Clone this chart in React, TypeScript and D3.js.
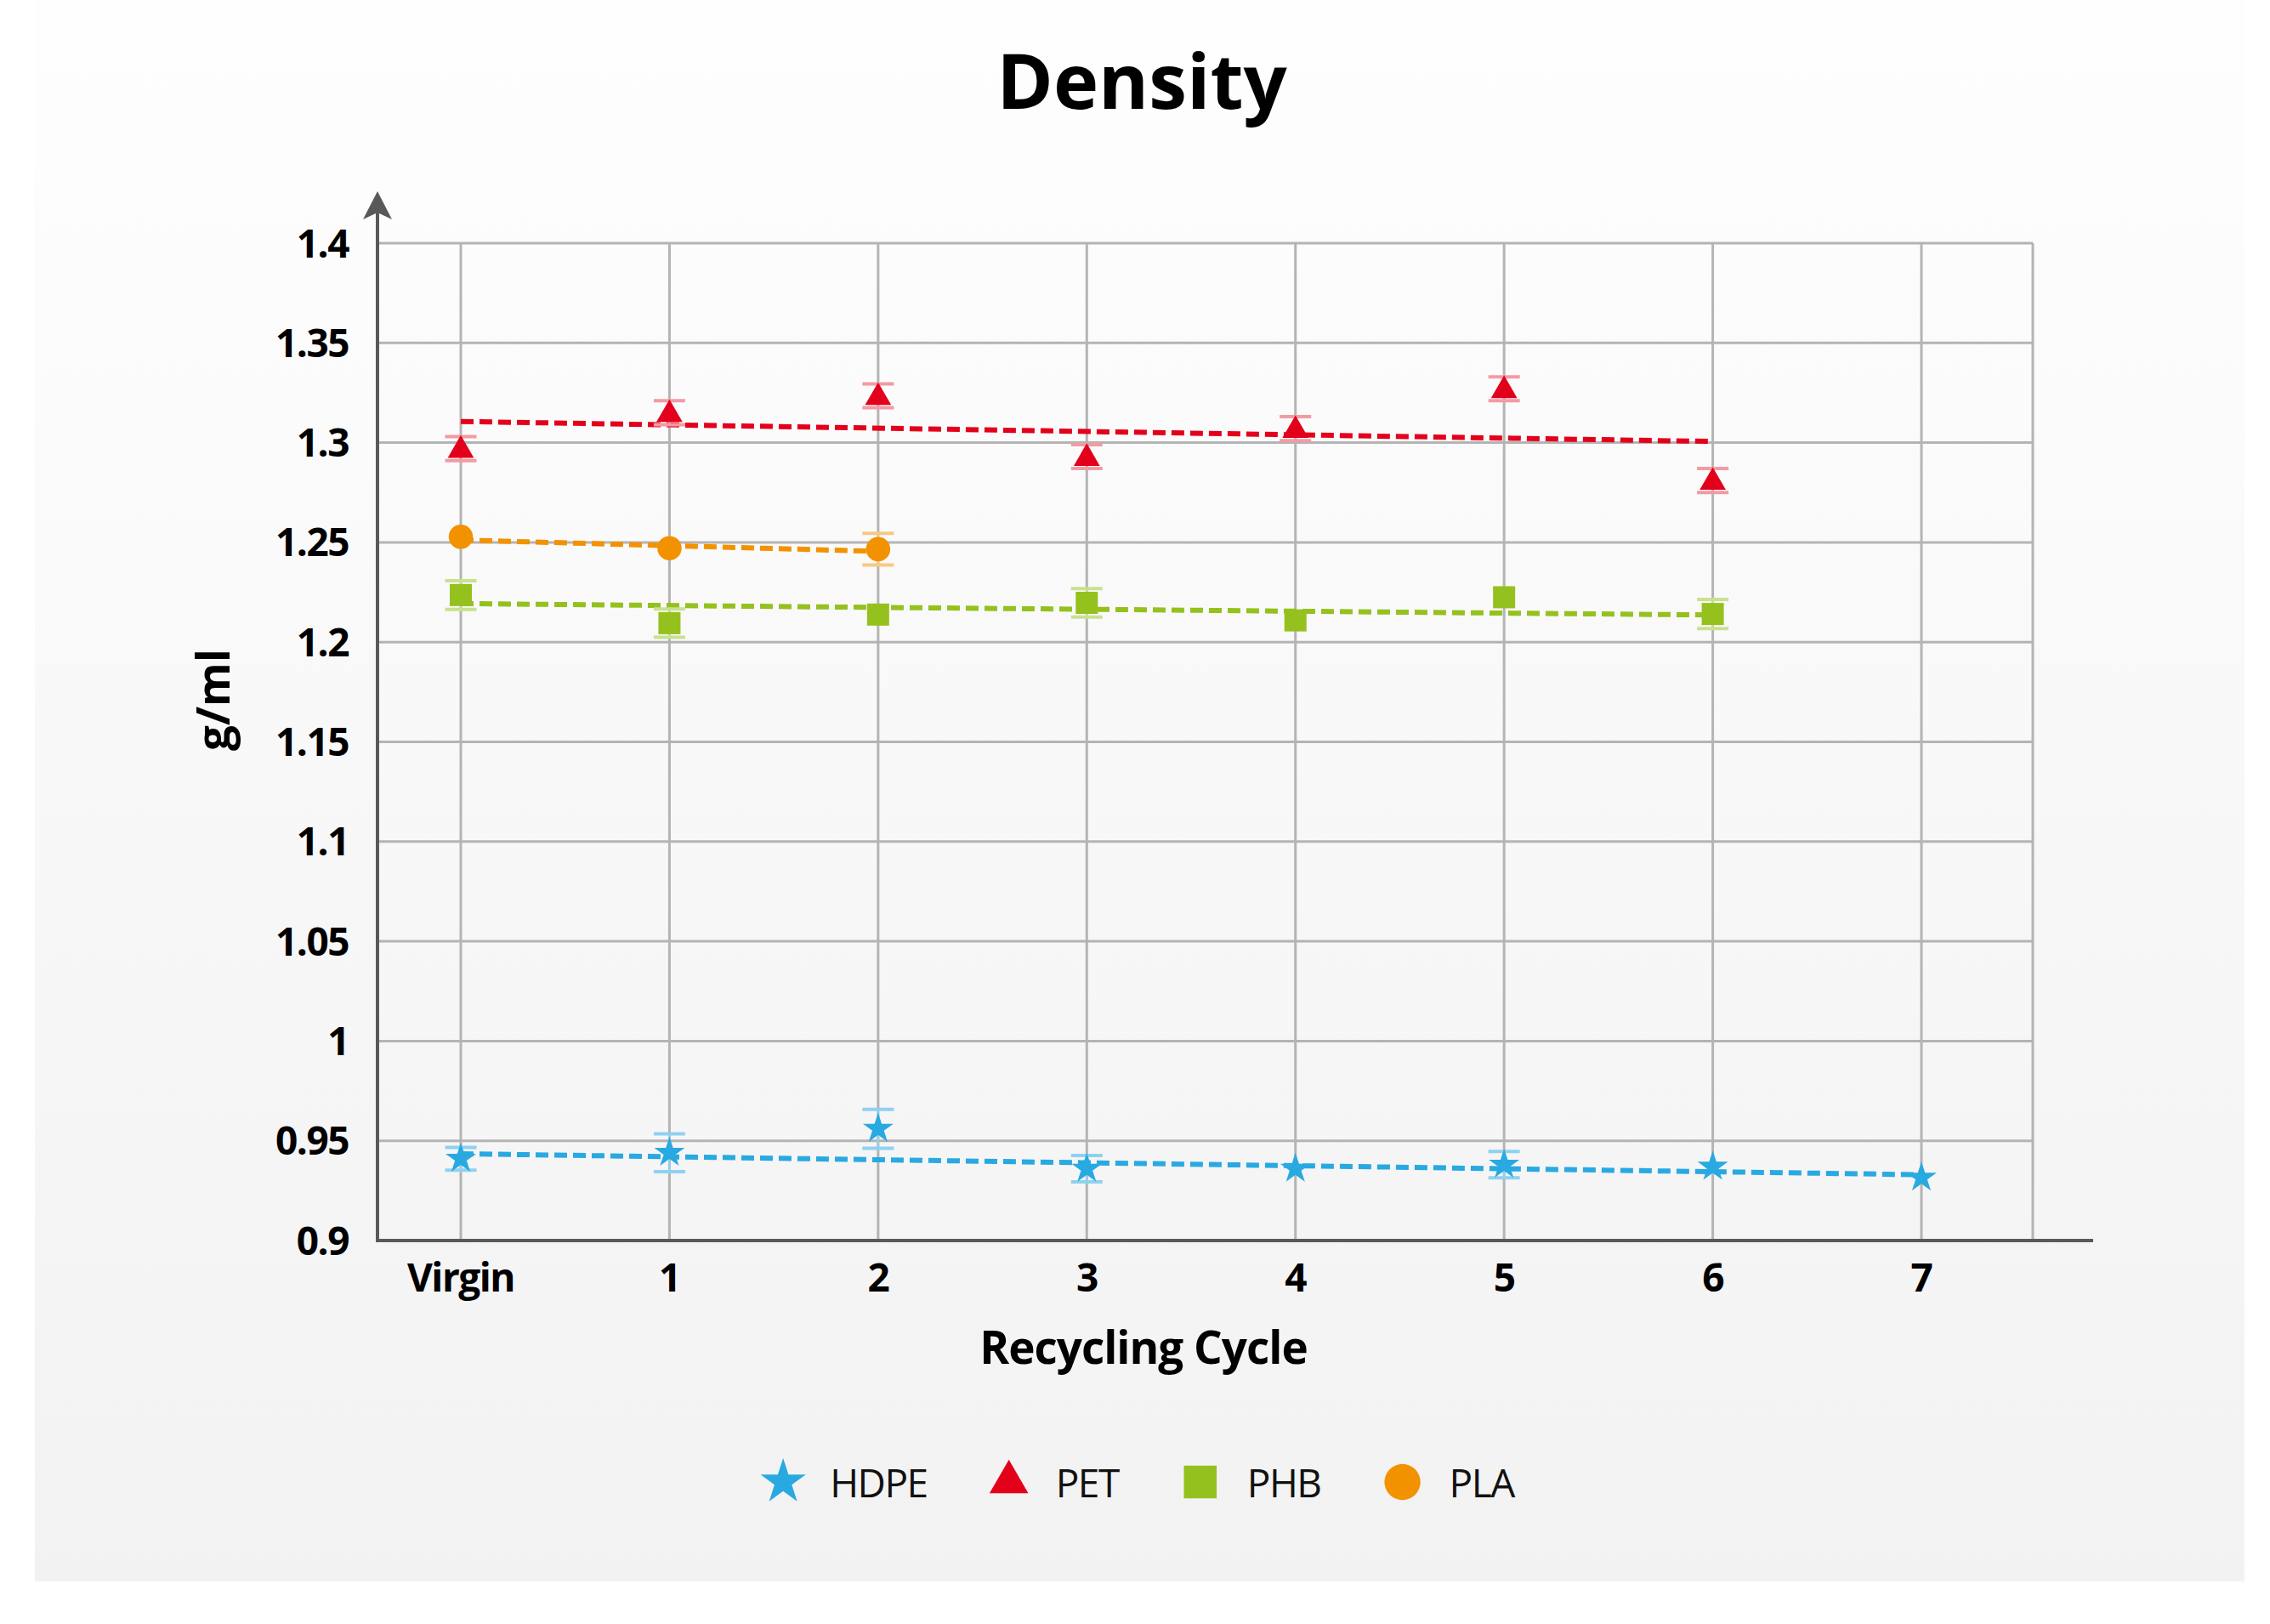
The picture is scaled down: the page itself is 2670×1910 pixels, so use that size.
import React, { useEffect, useRef } from 'react';
import * as d3 from 'd3';

const categories = ['Virgin', '1', '2', '3', '4', '5', '6', '7'];
const yTicks = [0.9, 0.95, 1, 1.05, 1.1, 1.15, 1.2, 1.25, 1.3, 1.35, 1.4];

const hdpeValues = [0.941, 0.944, 0.956, 0.936, 0.936, 0.938, 0.937, 0.9315];
const hdpeErrors = [0.0057, 0.0095, 0.0098, 0.0066, 0, 0.0066, 0, 0];
const hdpeTrend = [0.9435, 0.933];

const petValues = [1.297, 1.315, 1.3235, 1.293, 1.307, 1.327, 1.281];
const petErrors = [0.006, 0.006, 0.006, 0.006, 0.006, 0.006, 0.006];
const petTrend = [1.3106, 1.3006];

const phbValues = [1.2236, 1.2095, 1.2138, 1.2197, 1.2109, 1.2225, 1.2141];
const phbErrors = [0.0072, 0.0071, 0, 0.0071, 0, 0, 0.0073];
const phbTrend = [1.2193, 1.2136];

const plaValues = [1.2528, 1.2471, 1.2466];
const plaErrors = [0, 0, 0.0079];
const plaTrend = [1.2512, 1.2455];

interface Series {
  name: string;
  values: number[];
  errors: number[];
  trend: number[];
  color: string;
  light: string;
  symbol: d3.SymbolType;
  size: number;
}

const series: Series[] = [
  { name: 'HDPE', values: hdpeValues, errors: hdpeErrors, trend: hdpeTrend, color: '#29a9e1', light: '#8fd1f0', symbol: d3.symbolStar, size: 400 },
  { name: 'PET', values: petValues, errors: petErrors, trend: petTrend, color: '#e3001b', light: '#f39aa4', symbol: d3.symbolTriangle, size: 410 },
  { name: 'PHB', values: phbValues, errors: phbErrors, trend: phbTrend, color: '#95c11f', light: '#c9e190', symbol: d3.symbolSquare, size: 676 },
  { name: 'PLA', values: plaValues, errors: plaErrors, trend: plaTrend, color: '#f39200', light: '#f8c882', symbol: d3.symbolCircle, size: 640 },
];

const W = 2670;
const H = 1910;
const FONT = '"Open Sans", "Noto Sans", sans-serif';

const DensityChart: React.FC = () => {
  const svgRef = useRef<SVGSVGElement>(null);

  useEffect(() => {
    if (!svgRef.current) return;
    const svg = d3.select(svgRef.current);
    svg.selectAll('*').remove();

    const plotLeft = 444;
    const plotRight = 2391;
    const axisEnd = 2462;
    const plotTop = 286;
    const plotBottom = 1459;

    const x = d3.scaleLinear().domain([0, 7]).range([542, 2260]);
    const y = d3.scaleLinear().domain([0.9, 1.4]).range([plotBottom, plotTop]);

    // background panel
    const grad = svg.append('defs').append('linearGradient')
      .attr('id', 'bg').attr('x1', 0).attr('y1', 0).attr('x2', 0).attr('y2', 1);
    grad.append('stop').attr('offset', '0%').attr('stop-color', '#fefefe');
    grad.append('stop').attr('offset', '100%').attr('stop-color', '#f2f2f2');
    svg.append('rect').attr('width', W).attr('height', H).attr('fill', '#ffffff');
    svg.append('rect').attr('x', 41).attr('y', 0).attr('width', 2599).attr('height', 1860).attr('fill', 'url(#bg)');

    // title
    svg.append('text')
      .attr('x', 1343).attr('y', 128)
      .attr('text-anchor', 'middle')
      .style('font-family', FONT).style('font-weight', 700).style('font-size', '90px')
      .style('fill', '#000')
      .text('Density');

    // grid
    const grid = svg.append('g').attr('stroke', '#b4b4b4').attr('stroke-width', 3);
    grid.selectAll('.h').data(yTicks).enter().append('line')
      .attr('x1', plotLeft).attr('x2', plotRight)
      .attr('y1', d => y(d)).attr('y2', d => y(d));
    grid.selectAll('.v').data(categories).enter().append('line')
      .attr('x1', (d, i) => x(i)).attr('x2', (d, i) => x(i))
      .attr('y1', plotTop).attr('y2', plotBottom);
    grid.append('line')
      .attr('x1', plotRight).attr('x2', plotRight)
      .attr('y1', plotTop).attr('y2', plotBottom);

    // axes
    svg.append('line')
      .attr('x1', plotLeft).attr('x2', plotLeft)
      .attr('y1', plotBottom + 2).attr('y2', 250)
      .attr('stroke', '#595959').attr('stroke-width', 4);
    svg.append('path')
      .attr('d', `M${plotLeft},225 L${plotLeft + 17},258 L${plotLeft},250 L${plotLeft - 17},258 Z`)
      .attr('fill', '#595959');
    svg.append('line')
      .attr('x1', plotLeft - 2).attr('x2', axisEnd)
      .attr('y1', plotBottom).attr('y2', plotBottom)
      .attr('stroke', '#595959').attr('stroke-width', 4);

    // tick labels
    svg.append('g').selectAll('text').data(yTicks).enter().append('text')
      .attr('x', 410).attr('y', d => y(d)).attr('dy', '0.36em')
      .attr('text-anchor', 'end')
      .style('font-family', FONT).style('font-weight', 700).style('font-size', '46px')
      .style('letter-spacing', '-1.5px')
      .text(d => String(d));
    svg.append('g').selectAll('text').data(categories).enter().append('text')
      .attr('x', (d, i) => x(i)).attr('y', 1519)
      .attr('text-anchor', 'middle')
      .style('font-family', FONT).style('font-weight', 700).style('font-size', '46px')
      .style('letter-spacing', '-1.5px')
      .text(d => d);

    // axis titles
    svg.append('text')
      .attr('x', 1345).attr('y', 1604)
      .attr('text-anchor', 'middle')
      .style('font-family', FONT).style('font-weight', 700).style('font-size', '53px')
      .style('letter-spacing', '-1px')
      .text('Recycling Cycle');
    svg.append('text')
      .attr('transform', 'translate(270, 823) rotate(-90)')
      .attr('text-anchor', 'middle')
      .style('font-family', FONT).style('font-weight', 700).style('font-size', '53px')
      .text('g/ml');

    // trend lines
    series.forEach(s => {
      svg.append('line')
        .attr('x1', x(0)).attr('y1', y(s.trend[0]))
        .attr('x2', x(s.values.length - 1)).attr('y2', y(s.trend[1]))
        .attr('stroke', s.color).attr('stroke-width', 6)
        .attr('stroke-dasharray', '15 7');
    });

    // error bars
    series.forEach(s => {
      const g = svg.append('g').attr('stroke', s.light);
      s.values.forEach((v, i) => {
        const e = s.errors[i];
        if (!e) return;
        const cx = x(i);
        g.append('line').attr('x1', cx).attr('x2', cx)
          .attr('y1', y(v + e)).attr('y2', y(v - e)).attr('stroke-width', 2.5);
        [v + e, v - e].forEach(b => {
          g.append('line').attr('x1', cx - 18.5).attr('x2', cx + 18.5)
            .attr('y1', y(b)).attr('y2', y(b)).attr('stroke-width', 4);
        });
      });
    });

    // markers
    series.forEach(s => {
      const sym = d3.symbol().type(s.symbol).size(s.size);
      svg.append('g').selectAll('path').data(s.values).enter().append('path')
        .attr('d', sym() as string)
        .attr('transform', (d, i) => {
          const dy = s.symbol === d3.symbolTriangle ? 2 : 0;
          return `translate(${x(i)}, ${y(d) + dy})`;
        })
        .attr('fill', s.color);
    });

    // legend
    const legend = svg.append('g');
    const items = series.map(s => {
      const g = legend.append('g');
      g.append('path')
        .attr('d', d3.symbol().type(s.symbol).size(s.size * 2.2)() as string)
        .attr('fill', s.color);
      const t = g.append('text')
        .attr('x', 55).attr('y', 18)
        .style('font-family', FONT).style('font-weight', 400).style('font-size', '46px')
        .style('letter-spacing', '-1.5px')
        .style('fill', '#111')
        .text(s.name);
      const w = (t.node() as SVGTextElement).getComputedTextLength();
      return { g, w };
    });
    const gap = 96;
    const total = items.reduce((acc, it, i) => acc + 55 + it.w + (i < items.length - 1 ? gap : 0), 0) + 22;
    let cx = 1340 - total / 2 + 22;
    items.forEach(it => {
      it.g.attr('transform', `translate(${cx}, 1743)`);
      cx += 55 + it.w + gap;
    });
  }, []);

  return <svg ref={svgRef} width={W} height={H} style={{ display: 'block' }} />;
};

export default function App() {
  return (
    <div style={{ width: W, height: H, overflow: 'hidden' }}>
      <style>{'body{margin:0;overflow:hidden;}'}</style>
      <DensityChart />
    </div>
  );
}
